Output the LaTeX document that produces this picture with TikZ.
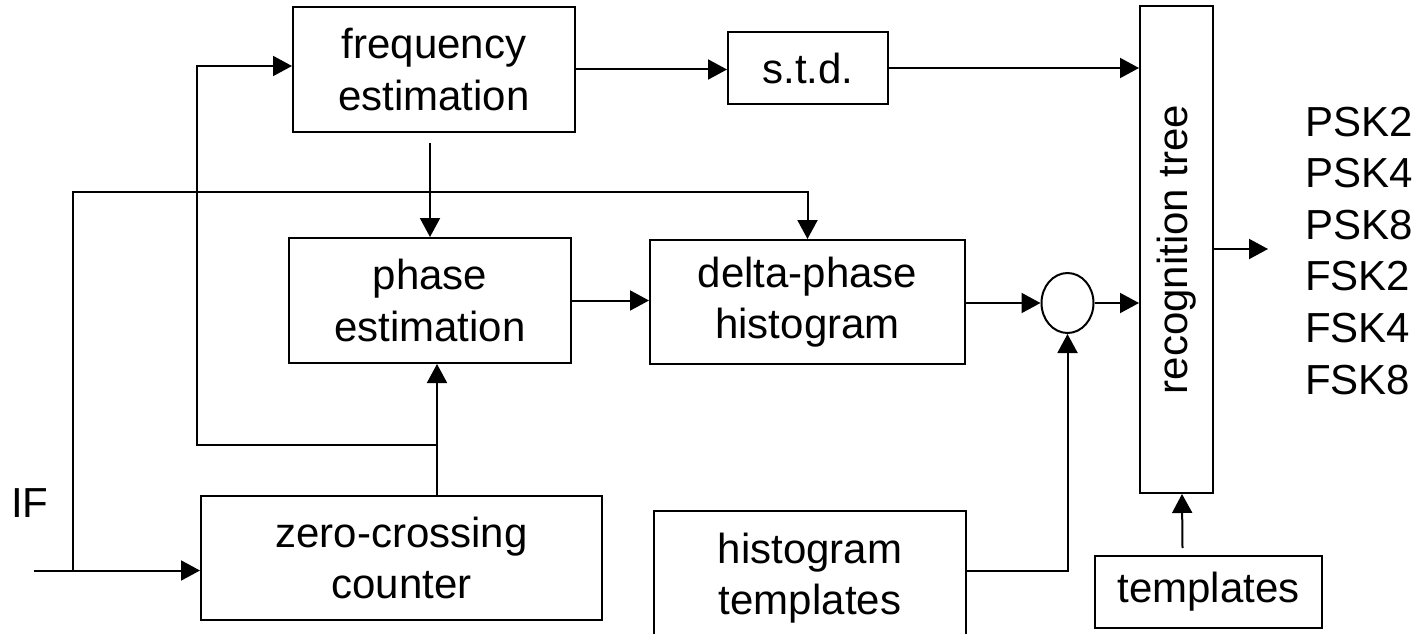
\documentclass[tikz,border=0pt]{standalone}
\usepackage{fontspec}
\setmainfont{Liberation Sans}
\usetikzlibrary{arrows.meta,shapes.geometric}

\begin{document}
\begin{tikzpicture}[x=1pt,y=-1pt,line width=2pt,
    font=\fontsize{42}{51.5}\selectfont,
    block/.style={draw,rectangle,inner sep=0pt,align=center},
    arr/.style={-{Triangle[length=19pt,width=20pt]}}]
\useasboundingbox (0,0) rectangle (1424,634);

% Blocks
\node[block,minimum width=282pt,minimum height=125pt] (freq) at (434,69.5) {frequency\\estimation};
\node[block,minimum width=160pt,minimum height=72pt] (std) at (808,68) {s.t.d.};
\node[block,minimum width=282pt,minimum height=125pt] (phase) at (430,300.5) {phase\\estimation};
\node[block,minimum width=315pt,minimum height=124pt] (delta) at (807.5,302) {delta-phase\\histogram};
\node[block,minimum width=401pt,minimum height=124pt] (zc) at (401.5,558) {zero-crossing\\counter};
\node[block,minimum width=312pt,minimum height=134pt] (histtpl) at (810,578) {histogram\\templates};
\node[block,minimum width=227pt,minimum height=72pt] (tpl) at (1208.5,592) {templates};
\node[block,minimum width=73pt,minimum height=487pt,
      label={[rotate=90]center:recognition tree}] (tree) at (1176.5,249.5) {};
\node[draw,ellipse,inner sep=0pt,minimum width=52pt,minimum height=60pt] (sum) at (1067.5,303) {};

% Input
\node[anchor=base west,inner sep=0pt] (if) at (10,517) {IF};
\coordinate (ifin) at (34,570.5);
\coordinate (tap) at (73,570.5);
\coordinate (bus) at (73,192);
\coordinate (fb) at (437,445);
\coordinate (loop) at (197,66);
\coordinate (res) at (1268,249);

% Outputs
\foreach \m [count=\i] in {PSK2,PSK4,PSK8,FSK2,FSK4,FSK8}
  \node[anchor=base west,inner sep=0pt] (m\i) at (1304,84.5+51.6*\i) {\m};

% Connections
\draw[arr] (ifin) -- (ifin -| zc.west);
\draw[arr] (tap) -- (bus) -| (delta.north);
\draw[arr] (zc.north -| fb) -- (phase.south -| fb);
\draw[arr] (fb) -| (loop) -- (loop -| freq.west);
\draw[arr] ([yshift=-10pt]freq.south -| phase.north) -- (phase.north);
\draw[arr] (freq.east) -- (freq.east -| std.west);
\draw[arr] (std.east) -- (std.east -| tree.west);
\draw[arr] (phase.east) -- (phase.east -| delta.west);
\draw[arr] (delta.east |- sum.west) -- (sum.west);
\draw[arr] (sum.east) -- (sum.east -| tree.west);
\draw[arr] ([yshift=7pt]histtpl.east) -| (sum.south);
\draw[arr] ([xshift=-26pt,yshift=7pt]tpl.north) -- ([xshift=5.5pt]tree.south);
\draw[arr] (tree.east |- res) -- (res);
\end{tikzpicture}
\end{document}
